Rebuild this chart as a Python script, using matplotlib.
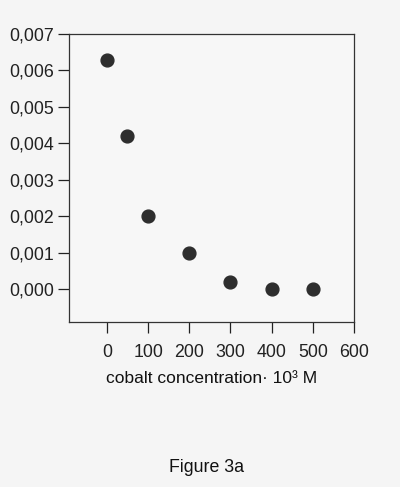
import matplotlib.pyplot as plt
from matplotlib.ticker import FuncFormatter

# cobalt concentration (x 10^3 M) and measured values
conc = [0, 50, 100, 200, 300, 400, 500]
value = [0.0063, 0.0042, 0.0020, 0.0010, 0.0002, 0.0000, 0.0000]
x_ticks = [0, 100, 200, 300, 400, 500, 600]
y_ticks = [0.000, 0.001, 0.002, 0.003, 0.004, 0.005, 0.006, 0.007]

plt.rcParams['font.family'] = ['Liberation Sans', 'DejaVu Sans']

fig = plt.figure(figsize=(4.0, 4.87), dpi=100)
fig.patch.set_facecolor('#f5f5f5')
ax = fig.add_axes([0.1725, 0.3388, 0.7125, 0.5914])
ax.set_facecolor('#f7f7f7')

ax.scatter(conc, value, s=85, color='#2e2e2e', zorder=3)

ax.set_xlim(-92, 600)
ax.set_ylim(-0.0009, 0.007)
ax.set_xticks(x_ticks)
ax.set_yticks(y_ticks)
ax.yaxis.set_major_formatter(FuncFormatter(lambda v, p: f'{v:.3f}'.replace('.', ',')))
ax.tick_params(axis='both', direction='out', length=8, width=0.9, labelsize=12.8, colors='#222222')
ax.tick_params(axis='x', pad=8)
ax.tick_params(axis='y', pad=3)
for s in ax.spines.values():
    s.set_linewidth(0.9)
    s.set_color('#333333')

ax.set_xlabel('cobalt concentration\u00b7 10\u00b3 M', fontsize=12.5, labelpad=7, color='#111111')
fig.text(0.5175, 1 - 467 / 487, 'Figure 3a', ha='center', va='center', fontsize=12.8, color='#111111')

fig.savefig('out.png', dpi=100, facecolor=fig.get_facecolor())
